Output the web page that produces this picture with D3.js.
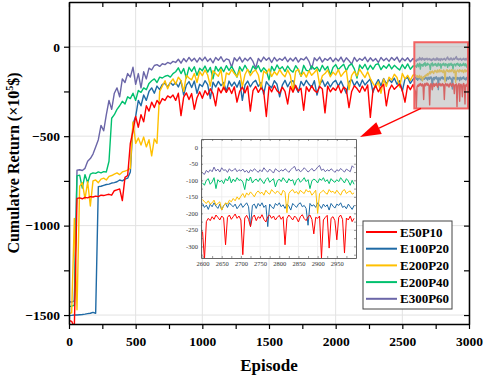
<!DOCTYPE html>
<html>
<head>
<meta charset="utf-8">
<script src="https://cdn.jsdelivr.net/npm/d3@7"></script>
<style>
  body { margin: 0; background: #fff; }
</style>
</head>
<body>
<div id="vis"></div>
<script>
const WIDTH = 484;
const HEIGHT = 377;
const FONT = "'Liberation Serif', 'Times New Roman', serif";

const SERIES = ["E50P10", "E100P20", "E200P20", "E200P40", "E300P60"];
const COLORS = ["#ff0000", "#1f6aa5", "#ffc000", "#00c06e", "#6b66a8"];

const X_TICKS = [0, 500, 1000, 1500, 2000, 2500, 3000];
const Y_TICKS = [0, -500, -1000, -1500];
const INSET_X_TICKS = [2600, 2650, 2700, 2750, 2800, 2850, 2900, 2950];
const INSET_Y_TICKS = [0, -50, -100, -150, -200, -250, -300];

// main curve: one value every 20 episodes, 0..2580
const MAIN_STEP = 20;
// zoomed part: one value every 5 episodes, 2600..2995
const INSET_START = 2600;
const INSET_STEP = 5;

const e50p10 = [
  -1530, -1535, -1570, -848, -845, -850, -842, -845, -838, -840,
  -835, -838, -830, -832, -828, -825, -830, -805, -800, -795,
  -860, -730, -720, -540, -470, -390, -450, -380, -420, -330,
  -360, -310, -340, -300, -320, -290, -300, -275, -285, -270,
  -300, -260, -385, -282, -258, -295, -262, -350, -285, -252,
  -288, -246, -270, -235, -262, -330, -230, -258, -226, -255,
  -228, -262, -224, -310, -250, -226, -258, -220, -360, -246,
  -222, -255, -230, -248, -390, -224, -252, -218, -246, -260,
  -226, -250, -320, -222, -254, -216, -248, -232, -355, -224,
  -250, -218, -244, -256, -222, -236, -370, -220, -252, -230,
  -244, -216, -258, -226, -238, -340, -250, -218, -234, -255,
  -220, -248, -214, -395, -242, -218, -252, -226, -210, -330,
  -244, -214, -238, -222, -208, -246, -310, -216, -240, -212
];
const e100p20 = [
  -1503, -1502, -1500, -1500, -1498, -1497, -1495, -1492, -1490, -1485,
  -1490, -782, -780, -775, -770, -768, -762, -760, -755, -745,
  -750, -740, -735, -700, -430, -390, -300, -330, -270, -300,
  -250, -230, -260, -220, -240, -210, -205, -225, -200, -215,
  -200, -225, -190, -270, -215, -195, -228, -192, -260, -210,
  -222, -190, -212, -290, -198, -225, -194, -218, -200, -250,
  -192, -220, -198, -226, -190, -300, -214, -192, -224, -200,
  -188, -222, -200, -265, -196, -216, -230, -190, -210, -280,
  -215, -188, -224, -196, -190, -226, -255, -194, -218, -188,
  -210, -226, -190, -270, -212, -186, -222, -196, -225, -200,
  -188, -220, -192, -226, -262, -196, -184, -218, -194, -222,
  -186, -214, -196, -180, -255, -210, -184, -218, -178, -208,
  -184, -200, -176, -210, -190, -248, -180, -172, -205, -182
];
const e200p20 = [
  -1490, -1488, -960, -1470, -780, -760, -850, -755, -890, -750,
  -745, -760, -740, -735, -745, -725, -720, -712, -705, -715,
  -700, -695, -690, -680, -420, -540, -510, -550, -505, -560,
  -520, -610, -515, -540, -250, -220, -190, -235, -200, -180,
  -210, -170, -190, -250, -160, -175, -185, -150, -200, -140,
  -162, -130, -158, -220, -134, -150, -165, -128, -240, -146,
  -156, -128, -150, -168, -132, -225, -155, -126, -162, -140,
  -130, -158, -235, -136, -150, -124, -166, -140, -158, -128,
  -152, -168, -130, -160, -250, -138, -126, -164, -142, -170,
  -134, -160, -144, -126, -215, -162, -150, -130, -168, -142,
  -158, -128, -166, -146, -132, -240, -160, -138, -164, -126,
  -150, -172, -140, -178, -205, -228, -196, -260, -180, -222,
  -170, -186, -154, -172, -225, -150, -180, -160, -188, -158
];
const e200p40 = [
  -1453, -1450, -1445, -722, -718, -790, -715, -760, -712, -705,
  -708, -700, -705, -698, -700, -640, -400, -380, -350, -330,
  -305, -320, -280, -290, -260, -300, -245, -255, -230, -240,
  -205, -190, -180, -200, -170, -175, -165, -160, -170, -150,
  -140, -118, -150, -122, -175, -115, -138, -112, -160, -120,
  -134, -108, -142, -116, -180, -110, -136, -114, -140, -106,
  -132, -110, -138, -170, -112, -136, -104, -130, -145, -108,
  -128, -106, -140, -118, -134, -185, -110, -136, -102, -126,
  -112, -138, -108, -130, -142, -106, -128, -165, -104, -132,
  -136, -108, -126, -114, -138, -104, -130, -110, -160, -116,
  -100, -128, -112, -98, -134, -106, -96, -124, -175, -102,
  -122, -98, -130, -104, -126, -100, -95, -128, -106, -120,
  -98, -124, -104, -118, -130, -100, -122, -96, -126, -108
];
const e300p60 = [
  -1425, -1428, -1420, -690, -688, -692, -680, -640, -625, -600,
  -560, -520, -440, -470, -380, -300, -350, -260, -230, -280,
  -180, -200, -150, -170, -115, -210, -150, -230, -140, -180,
  -120, -130, -105, -100, -110, -95, -100, -88, -95, -82,
  -88, -70, -92, -66, -84, -60, -80, -64, -86, -62,
  -78, -58, -82, -66, -90, -60, -76, -56, -84, -68,
  -74, -115, -62, -80, -58, -86, -64, -78, -60, -82,
  -120, -66, -84, -58, -76, -62, -88, -60, -80, -66,
  -76, -58, -84, -64, -80, -60, -86, -66, -74, -58,
  -82, -125, -62, -78, -58, -86, -66, -76, -60, -84,
  -64, -80, -58, -86, -62, -78, -98, -60, -82, -66,
  -76, -58, -84, -62, -80, -66, -88, -60, -78, -64,
  -82, -60, -76, -58, -86, -64, -78, -62, -84, -66
];

const inset_e50p10 = [
  -255, -340, -225, -215, -222, -210, -218, -205, -212, -220,
  -208, -214, -295, -212, -205, -218, -210, -202, -215, -208,
  -220, -325, -214, -206, -218, -240, -212, -205, -222, -210,
  -215, -204, -218, -226, -210, -205, -215, -208, -220, -212,
  -206, -218, -210, -295, -215, -205, -212, -220, -208, -214,
  -226, -210, -204, -216, -222, -210, -205, -218, -262, -212,
  -215, -208, -335, -220, -212, -206, -305, -215, -210, -222,
  -280, -212, -205, -218, -320, -214, -220, -208, -225, -215
];
const inset_e100p20 = [
  -170, -182, -175, -188, -172, -180, -168, -178, -185, -172,
  -190, -176, -170, -182, -168, -175, -180, -172, -186, -178,
  -170, -182, -175, -168, -180, -240, -176, -172, -185, -170,
  -178, -168, -182, -175, -240, -172, -180, -186, -170, -176,
  -168, -180, -174, -185, -172, -178, -190, -170, -176, -182,
  -172, -168, -180, -176, -185, -236, -170, -178, -174, -182,
  -168, -176, -185, -172, -180, -174, -190, -170, -178, -184,
  -172, -176, -168, -182, -178, -186, -172, -180, -188, -176
];
const inset_e200p20 = [
  -158, -165, -170, -162, -172, -168, -160, -175, -170, -165,
  -190, -178, -168, -172, -160, -165, -155, -162, -150, -158,
  -148, -140, -152, -138, -145, -135, -142, -150, -138, -132,
  -140, -136, -145, -130, -138, -142, -128, -135, -140, -132,
  -138, -145, -130, -136, -198, -140, -132, -128, -138, -134,
  -142, -130, -136, -140, -128, -135, -132, -145, -138, -130,
  -200, -140, -135, -130, -138, -142, -128, -136, -133, -140,
  -130, -138, -145, -132, -128, -140, -135, -132, -142, -138
];
const inset_e200p40 = [
  -108, -115, -100, -95, -112, -105, -92, -125, -98, -105,
  -100, -110, -95, -102, -88, -108, -96, -104, -92, -100,
  -98, -105, -128, -95, -102, -90, -108, -100, -96, -104,
  -94, -102, -110, -98, -92, -106, -100, -95, -120, -102,
  -96, -104, -92, -100, -108, -95, -102, -98, -115, -100,
  -94, -106, -100, -92, -104, -98, -125, -102, -96, -100,
  -108, -95, -100, -92, -104, -98, -110, -95, -102, -106,
  -98, -104, -92, -100, -108, -95, -102, -115, -100, -112
];
const inset_e300p60 = [
  -78, -82, -70, -76, -68, -74, -60, -72, -66, -75,
  -62, -70, -68, -76, -65, -72, -70, -64, -74, -68,
  -72, -66, -75, -70, -78, -68, -73, -65, -70, -76,
  -68, -74, -62, -70, -75, -66, -72, -78, -65, -70,
  -74, -68, -72, -65, -70, -76, -68, -62, -58, -72,
  -66, -74, -70, -62, -68, -75, -70, -64, -72, -68,
  -60, -55, -70, -66, -74, -68, -72, -65, -70, -76,
  -68, -72, -64, -70, -75, -66, -70, -74, -56, -62
];

const MAIN_VALUES = [e50p10, e100p20, e200p20, e200p40, e300p60];
const INSET_VALUES = [inset_e50p10, inset_e100p20, inset_e200p20, inset_e200p40, inset_e300p60];

// build [episode, value] lists
const mainData = SERIES.map((name, k) => {
  const pts = MAIN_VALUES[k].map((v, i) => [i * MAIN_STEP, v]);
  INSET_VALUES[k].forEach((v, j) => pts.push([INSET_START + j * INSET_STEP, v]));
  return { name, color: COLORS[k], pts };
});
const insetData = SERIES.map((name, k) => ({
  name, color: COLORS[k],
  pts: INSET_VALUES[k].map((v, j) => [INSET_START + j * INSET_STEP, v])
}));

// draw order (red ends up on top)
const DRAW_ORDER = [4, 3, 1, 2, 0];

const SVG = d3.select("#vis").append("svg")
  .attr("width", WIDTH).attr("height", HEIGHT)
  .style("font-family", FONT);

const PLOT = { LEFT: 69, RIGHT: 469, TOP: 2, BOTTOM: 324 };

const x = d3.scaleLinear().domain([0, 3000]).range([PLOT.LEFT, PLOT.RIGHT]);
const y = d3.scaleLinear().domain([-1550, 250]).range([PLOT.BOTTOM, PLOT.TOP]);

// grid
const grid = SVG.append("g");
grid.selectAll(".gx").data(X_TICKS).join("line")
  .attr("x1", d => x(d)).attr("x2", d => x(d))
  .attr("y1", PLOT.TOP).attr("y2", PLOT.BOTTOM)
  .attr("stroke", "#e2e2e2").attr("stroke-width", 1);
grid.selectAll(".gy").data(Y_TICKS).join("line")
  .attr("x1", PLOT.LEFT).attr("x2", PLOT.RIGHT)
  .attr("y1", d => y(d)).attr("y2", d => y(d))
  .attr("stroke", "#e2e2e2").attr("stroke-width", 1);

SVG.append("clipPath").attr("id", "clipMain").append("rect")
  .attr("x", PLOT.LEFT).attr("y", PLOT.TOP)
  .attr("width", PLOT.RIGHT - PLOT.LEFT).attr("height", PLOT.BOTTOM - PLOT.TOP);

const line = d3.line().x(d => x(d[0])).y(d => y(d[1]));
const lines = SVG.append("g").attr("clip-path", "url(#clipMain)");
DRAW_ORDER.forEach(k => {
  lines.append("path")
    .attr("d", line(mainData[k].pts))
    .attr("fill", "none")
    .attr("stroke", mainData[k].color)
    .attr("stroke-width", 1.4)
    .attr("stroke-linejoin", "round");
});

// highlighted window
const winX0 = x(2590), winX1 = x(3000) - 1;
const winY0 = y(25), winY1 = y(-345);
SVG.append("rect")
  .attr("x", winX0).attr("y", winY0)
  .attr("width", winX1 - winX0).attr("height", winY1 - winY0)
  .attr("fill", "#b4b4b4").attr("fill-opacity", 0.55)
  .attr("stroke", "#f26262").attr("stroke-width", 2);

// axes
const minorX = d3.range(0, 3001, 250);
const minorY = d3.range(-1500, 1, 250);
const fmt = d => (d % 500 === 0 ? d3.format("")(d) : "");

function styleAxis(g) {
  g.attr("font-family", FONT);
  g.select(".domain").attr("stroke", "#000").attr("stroke-width", 1.5);
  g.selectAll(".tick line").attr("stroke", "#000").attr("stroke-width", 1.2);
  g.selectAll(".tick text")
    .attr("fill", "#000")
    .style("font-family", FONT)
    .style("font-weight", "bold")
    .style("font-size", "13.5px");
}

SVG.append("g").attr("transform", `translate(0,${PLOT.BOTTOM})`)
  .call(d3.axisBottom(x).tickValues(minorX).tickFormat(fmt).tickSize(5).tickSizeOuter(0).tickPadding(7))
  .call(styleAxis);
SVG.append("g").attr("transform", `translate(0,${PLOT.TOP})`)
  .call(d3.axisTop(x).tickValues(minorX).tickFormat("").tickSize(-5).tickSizeOuter(0))
  .call(styleAxis);
SVG.append("g").attr("transform", `translate(${PLOT.LEFT},0)`)
  .call(d3.axisLeft(y).tickValues(minorY).tickFormat(fmt).tickSize(5).tickSizeOuter(0).tickPadding(4))
  .call(styleAxis);
SVG.append("g").attr("transform", `translate(${PLOT.RIGHT},0)`)
  .call(d3.axisRight(y).tickValues(minorY).tickFormat("").tickSize(-5).tickSizeOuter(0))
  .call(styleAxis);

// axis titles
SVG.append("text")
  .attr("x", (PLOT.LEFT + PLOT.RIGHT) / 2).attr("y", 371)
  .attr("text-anchor", "middle")
  .style("font-weight", "bold").style("font-size", "17px")
  .text("Episode");

const yTitle = SVG.append("text")
  .attr("transform", `translate(19,${(PLOT.TOP + PLOT.BOTTOM) / 2}) rotate(-90)`)
  .attr("text-anchor", "middle")
  .style("font-weight", "bold").style("font-size", "16px");
yTitle.append("tspan").text("Cumulatve Return (×10");
yTitle.append("tspan").attr("dy", -6).style("font-size", "10px").text("5");
yTitle.append("tspan").attr("dy", 6).text("$)");

// inset
const INSET = { LEFT: 201, RIGHT: 356, TOP: 139, BOTTOM: 258 };
const xi = d3.scaleLinear().domain([2596, 3000]).range([INSET.LEFT, INSET.RIGHT]);
const yi = d3.scaleLinear().domain([-335, 25]).range([INSET.BOTTOM, INSET.TOP]);

const inset = SVG.append("g");
inset.append("rect")
  .attr("x", INSET.LEFT).attr("y", INSET.TOP)
  .attr("width", INSET.RIGHT - INSET.LEFT).attr("height", INSET.BOTTOM - INSET.TOP)
  .attr("fill", "#fff");
inset.selectAll(".igx").data(INSET_X_TICKS).join("line")
  .attr("x1", d => xi(d)).attr("x2", d => xi(d))
  .attr("y1", INSET.TOP).attr("y2", INSET.BOTTOM)
  .attr("stroke", "#ececec").attr("stroke-width", 0.8);
inset.selectAll(".igy").data(INSET_Y_TICKS).join("line")
  .attr("x1", INSET.LEFT).attr("x2", INSET.RIGHT)
  .attr("y1", d => yi(d)).attr("y2", d => yi(d))
  .attr("stroke", "#ececec").attr("stroke-width", 0.8);

SVG.append("clipPath").attr("id", "clipInset").append("rect")
  .attr("x", INSET.LEFT).attr("y", INSET.TOP)
  .attr("width", INSET.RIGHT - INSET.LEFT).attr("height", INSET.BOTTOM - INSET.TOP);

const lineInset = d3.line().x(d => xi(d[0])).y(d => yi(d[1]));
const insetLines = inset.append("g").attr("clip-path", "url(#clipInset)");
DRAW_ORDER.forEach(k => {
  insetLines.append("path")
    .attr("d", lineInset(insetData[k].pts))
    .attr("fill", "none")
    .attr("stroke", insetData[k].color)
    .attr("stroke-width", 1)
    .attr("stroke-linejoin", "round");
});

const insetMinorX = d3.range(2600, 3000, 25);
const insetMinorY = d3.range(-325, 1, 25);
function styleInsetAxis(g) {
  g.attr("font-family", FONT);
  g.select(".domain").attr("stroke", "#555").attr("stroke-width", 0.9);
  g.selectAll(".tick line").attr("stroke", "#555").attr("stroke-width", 0.6);
  g.selectAll(".tick text")
    .attr("fill", "#333")
    .style("font-family", FONT)
    .style("font-size", "6.5px");
}
const fmtIx = d => (d % 50 === 0 ? d : "");
const fmtIy = d => (d % 50 === 0 ? d3.format("")(d).replace("−", "-") : "");
inset.append("g").attr("transform", `translate(0,${INSET.BOTTOM})`)
  .call(d3.axisBottom(xi).tickValues(insetMinorX).tickFormat(fmtIx).tickSize(-2).tickSizeOuter(0).tickPadding(3))
  .call(styleInsetAxis);
inset.append("g").attr("transform", `translate(0,${INSET.TOP})`)
  .call(d3.axisTop(xi).tickValues(insetMinorX).tickFormat("").tickSize(-2).tickSizeOuter(0))
  .call(styleInsetAxis);
inset.append("g").attr("transform", `translate(${INSET.LEFT},0)`)
  .call(d3.axisLeft(yi).tickValues(insetMinorY).tickFormat(fmtIy).tickSize(-2).tickSizeOuter(0).tickPadding(3))
  .call(styleInsetAxis);
inset.append("g").attr("transform", `translate(${INSET.RIGHT},0)`)
  .call(d3.axisRight(yi).tickValues(insetMinorY).tickFormat("").tickSize(-2).tickSizeOuter(0))
  .call(styleInsetAxis);

// arrow from the window to the inset
const from = [x(2640), winY1];
const tip = [INSET.RIGHT + 4, INSET.TOP - 2];
const ang = Math.atan2(tip[1] - from[1], tip[0] - from[0]);
const headLen = 21, headHalf = 6.5;
const base = [tip[0] - headLen * Math.cos(ang), tip[1] - headLen * Math.sin(ang)];
SVG.append("line")
  .attr("x1", from[0]).attr("y1", from[1])
  .attr("x2", base[0]).attr("y2", base[1])
  .attr("stroke", "#ff0000").attr("stroke-width", 1.3);
SVG.append("polygon")
  .attr("points", [
    tip,
    [base[0] - headHalf * Math.sin(ang), base[1] + headHalf * Math.cos(ang)],
    [base[0] + headHalf * Math.sin(ang), base[1] - headHalf * Math.cos(ang)]
  ].map(p => p.join(",")).join(" "))
  .attr("fill", "#ff0000");

// legend
const LEG = { X: 363, Y: 221, W: 89, H: 88, ROW: 16.7 };
const legend = SVG.append("g");
legend.append("rect")
  .attr("x", LEG.X).attr("y", LEG.Y).attr("width", LEG.W).attr("height", LEG.H)
  .attr("fill", "#fff").attr("stroke", "#444").attr("stroke-width", 1);
const legRows = legend.selectAll(".leg").data(mainData).join("g")
  .attr("transform", (d, i) => `translate(${LEG.X},${LEG.Y + 11 + i * LEG.ROW})`);
legRows.append("line")
  .attr("x1", 3).attr("x2", 34).attr("y1", 0).attr("y2", 0)
  .attr("stroke", d => d.color).attr("stroke-width", 2);
legRows.append("text")
  .attr("x", 37).attr("y", 4.5)
  .style("font-weight", "bold").style("font-size", "13px")
  .text(d => d.name);
</script>
</body>
</html>
